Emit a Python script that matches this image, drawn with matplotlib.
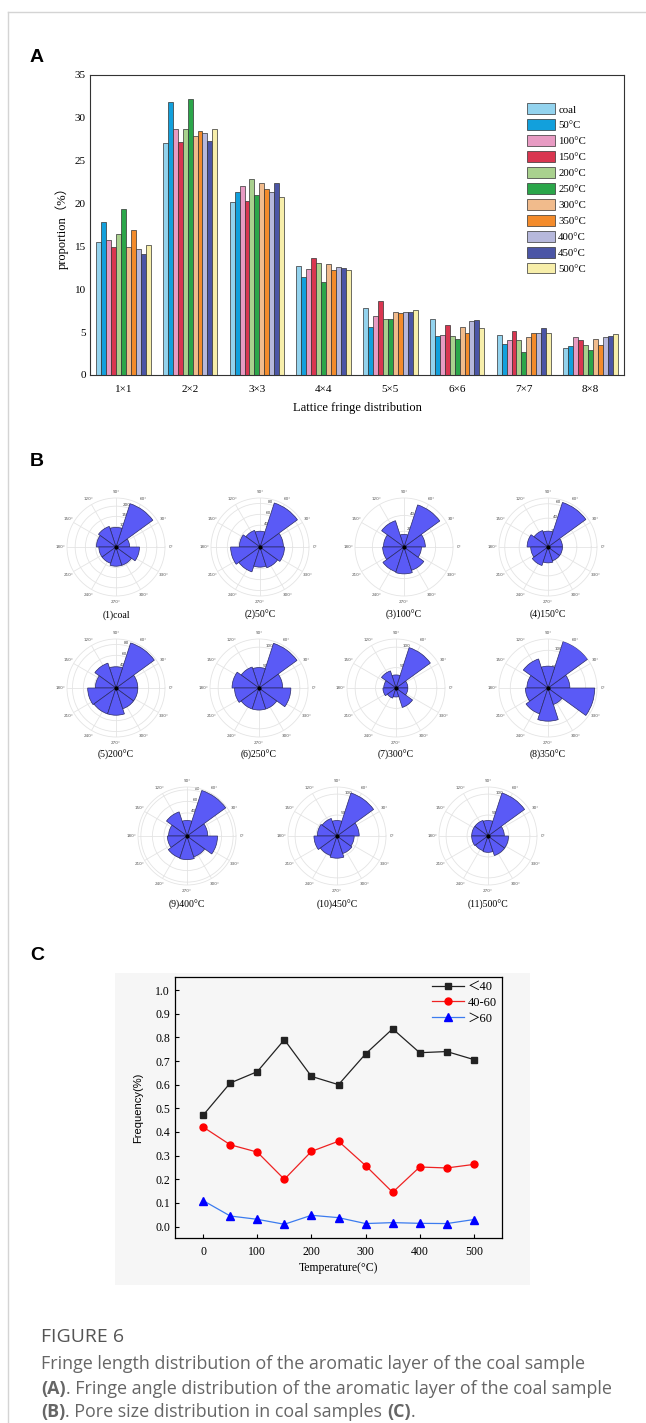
import numpy as np
import matplotlib.pyplot as plt
from matplotlib.patches import Rectangle
from matplotlib.lines import Line2D

# ---------------- data ----------------
fringe_classes = ["1×1", "2×2", "3×3", "4×4", "5×5", "6×6", "7×7", "8×8"]
samples = ["coal", "50°C", "100°C", "150°C", "200°C", "250°C",
           "300°C", "350°C", "400°C", "450°C", "500°C"]
sample_colors = ["#93d3ee", "#12a0dc", "#e89bc3", "#d93650", "#a9d18e", "#2ba64a",
                 "#f1bb8c", "#f38b2b", "#b6b8dc", "#4b55a6", "#f7eeaa"]
# proportion (%) for each sample, one value per fringe class
prop_coal = [15.5, 27.1, 20.2, 12.7, 7.8, 6.5, 4.7, 3.1]
prop_50 = [17.9, 31.8, 21.4, 11.4, 5.6, 4.5, 3.6, 3.4]
prop_100 = [15.8, 28.7, 22.1, 12.4, 6.9, 4.7, 4.1, 4.4]
prop_150 = [14.9, 27.2, 20.3, 13.7, 8.6, 5.8, 5.1, 4.1]
prop_200 = [16.5, 28.7, 22.9, 13.1, 6.5, 4.6, 4.1, 3.5]
prop_250 = [19.4, 32.2, 21.0, 10.9, 6.5, 4.2, 2.7, 2.9]
prop_300 = [14.9, 27.9, 22.4, 13.0, 7.4, 5.6, 4.4, 4.2]
prop_350 = [16.9, 28.5, 21.7, 12.3, 7.2, 4.9, 4.9, 3.5]
prop_400 = [14.7, 28.2, 21.3, 12.6, 7.3, 6.3, 4.9, 4.4]
prop_450 = [14.1, 27.3, 22.4, 12.5, 7.4, 6.4, 5.5, 4.6]
prop_500 = [15.2, 28.7, 20.8, 12.3, 7.6, 5.5, 4.9, 4.8]
proportions = [prop_coal, prop_50, prop_100, prop_150, prop_200, prop_250,
               prop_300, prop_350, prop_400, prop_450, prop_500]

# fringe angle roses: counts in 10 bins of 36 deg starting at 0 deg
rose_bins_deg = [0, 36, 72, 108, 144, 180, 216, 252, 288, 324]
rose_titles = ["(1)coal", "(2)50°C", "(3)100°C", "(4)150°C", "(5)200°C", "(6)250°C",
               "(7)300°C", "(8)350°C", "(9)400°C", "(10)450°C", "(11)500°C"]
rose_counts = [
    [67, 223, 96, 106, 96, 84, 84, 94, 94, 115],
    [43, 85, 29, 32, 38, 54, 48, 37, 40, 45],
    [27, 56, 16, 35, 26, 27, 33, 34, 31, 22],
    [20, 65, 22, 24, 29, 24, 27, 22, 20, 20],
    [40, 87, 39, 48, 38, 52, 50, 50, 40, 40],
    [58, 115, 50, 54, 66, 60, 54, 54, 54, 78],
    [29, 104, 32, 44, 30, 32, 26, 22, 50, 29],
    [58, 130, 58, 81, 56, 60, 72, 88, 46, 124],
    [36, 83, 27, 44, 32, 34, 40, 41, 38, 53],
    [53, 108, 37, 44, 47, 55, 49, 53, 44, 41],
    [39, 108, 37, 39, 39, 39, 37, 39, 49, 49],
]
rose_rmax = [240, 90, 62, 68, 90, 120, 120, 130, 85, 117, 117]
rose_rticks = [[50, 100, 150, 200], [20, 40, 60, 80], [20, 40], [20, 40, 60],
               [20, 40, 60, 80], [50, 100], [50, 100], [50, 100],
               [20, 40, 60, 80], [50, 100], [50, 100]]

# pore size distribution
temps = [0, 50, 100, 150, 200, 250, 300, 350, 400, 450, 500]
freq_lt40 = [0.471, 0.607, 0.655, 0.790, 0.635, 0.600, 0.730, 0.836, 0.735, 0.740, 0.706]
freq_40_60 = [0.421, 0.346, 0.315, 0.200, 0.318, 0.361, 0.258, 0.145, 0.252, 0.248, 0.263]
freq_gt60 = [0.110, 0.045, 0.031, 0.010, 0.048, 0.038, 0.013, 0.017, 0.014, 0.013, 0.030]

# ---------------- layout helpers ----------------
W, H = 646, 1423
fig = plt.figure(figsize=(W / 100, H / 100), dpi=100)
serif = "Liberation Serif"


def rect(x0, y0, x1, y1):
    return [x0 / W, 1 - y1 / H, (x1 - x0) / W, (y1 - y0) / H]


# card border
fig.add_artist(Line2D([8 / W, 1], [1 - 12 / H, 1 - 12 / H], color="#d4d4d4", lw=1))
fig.add_artist(Line2D([8 / W, 8 / W], [0, 1 - 12 / H], color="#d4d4d4", lw=1))

# panel letters
for letter, y in [("A", 58), ("B", 461), ("C", 955)]:
    fig.text(30 / W, 1 - y / H, letter, fontsize=14, fontweight="bold",
             family="Liberation Sans", va="center", ha="left")

# ---------------- panel A ----------------
axA = fig.add_axes(rect(90, 75, 624, 375))
x = np.arange(len(fringe_classes))
bw = 0.074
for i, (vals, col) in enumerate(zip(proportions, sample_colors)):
    axA.bar(x + (i - 5) * bw, vals, width=bw, color=col, edgecolor="#333333",
            linewidth=0.5, label=samples[i])
axA.set_xlim(-0.5, 7.5)
axA.set_ylim(0, 35)
axA.set_yticks(range(0, 36, 5))
axA.set_xticks(x)
axA.set_xticklabels(fringe_classes, family=serif, fontsize=8)
for t in axA.get_yticklabels():
    t.set_family(serif)
    t.set_fontsize(8)
axA.tick_params(axis="y", length=0, pad=3)
axA.tick_params(axis="x", length=0, pad=7)
axA.set_xlabel("Lattice fringe distribution", family=serif, fontsize=9, labelpad=6)
axA.set_ylabel("proportion（%）", family=[serif, "Noto Sans CJK SC"], fontsize=9, labelpad=4)
for s in axA.spines.values():
    s.set_linewidth(0.8)
    s.set_color("#333333")
axA.legend(loc="upper left", bbox_to_anchor=(0.818, 0.905), frameon=False,
           prop={"family": serif, "size": 7.8}, handlelength=2.6, handleheight=1.15,
           labelspacing=0.45, handletextpad=0.3, borderpad=0, borderaxespad=0)

# ---------------- panel B ----------------
rose_centers = [(116, 547), (260, 547), (404, 547), (548, 547),
                (116, 688), (259, 688), (396, 688), (548, 688),
                (187, 836), (337, 836), (488, 836)]
title_y = [615] * 4 + [755] * 4 + [905] * 3
R = 49
theta = np.deg2rad(np.array(rose_bins_deg) + 18)
for k, (cx, cy) in enumerate(rose_centers):
    ax = fig.add_axes(rect(cx - R, cy - R, cx + R, cy + R), projection="polar")
    ax.bar(theta, rose_counts[k], width=np.deg2rad(36), color="#5a5af6",
           edgecolor="#2a2a66", linewidth=0.5, zorder=3)
    ax.plot(0, 0, "o", color="black", ms=2, zorder=4)
    ax.set_ylim(0, rose_rmax[k])
    ax.set_rticks(rose_rticks[k])
    ax.set_rlabel_position(80)
    ax.set_thetagrids(range(0, 360, 30))
    ax.tick_params(axis="x", labelsize=3, colors="#555555", pad=-2.5, length=0)
    ax.tick_params(axis="y", labelsize=3, colors="#444444")
    ax.grid(color="#e4e4e4", lw=0.6)
    ax.spines["polar"].set_color("#e4e4e4")
    ax.spines["polar"].set_linewidth(0.6)
    fig.text(cx / W, 1 - title_y[k] / H, rose_titles[k], family=serif, fontsize=7,
             ha="center", va="center")

# ---------------- panel C ----------------
fig.add_artist(Rectangle((115 / W, 1 - 1285 / H), (530 - 115) / W, (1285 - 973) / H,
                         transform=fig.transFigure, facecolor="#f6f6f6",
                         edgecolor="none", zorder=0))
axC = fig.add_axes(rect(175, 977, 502, 1238))
axC.set_facecolor("#f6f6f6")
axC.plot(temps, freq_lt40, "-s", color="#222222", lw=0.9, ms=4.5, label="＜40")
axC.plot(temps, freq_40_60, "-o", color="#ee2222", mfc="#ff0000", mec="#ff0000",
         lw=0.9, ms=5, label="40-60")
axC.plot(temps, freq_gt60, "-^", color="#3b7bef", mfc="#0000ff", mec="#0000ff",
         lw=0.9, ms=5.5, label="＞60")
axC.set_xlim(-52, 552)
axC.set_ylim(-0.048, 1.055)
axC.set_xticks(range(0, 501, 100))
axC.set_yticks(np.arange(0, 1.01, 0.1))
axC.set_yticklabels([f"{v:.1f}" for v in np.arange(0, 1.01, 0.1)])
for t in axC.get_xticklabels() + axC.get_yticklabels():
    t.set_family(serif)
    t.set_fontsize(8.5)
axC.tick_params(direction="in", length=3, width=0.8)
axC.tick_params(axis="x", pad=6)
for s in axC.spines.values():
    s.set_linewidth(0.9)
axC.set_xlabel("Temperature(°C)", family=serif, fontsize=8.5, labelpad=3)
axC.set_ylabel("Frequency(%)", family="Liberation Sans", fontsize=8, labelpad=9)
axC.legend(loc="upper right", bbox_to_anchor=(0.985, 0.985), frameon=False,
           prop={"family": [serif, "Noto Sans CJK SC"], "size": 9},
           handlelength=2.6, labelspacing=0.3, handletextpad=0.3,
           borderpad=0, borderaxespad=0)

# ---------------- caption ----------------
fig.text(41 / W, 1 - 1337 / H, "FIGURE 6", family="Open Sans", fontsize=14,
         color="#555555", va="center")
renderer = fig.canvas.get_renderer()
cap_lines = [
    [("Fringe length distribution of the aromatic layer of the coal sample", "normal")],
    [("(A)", "bold"), (". Fringe angle distribution of the aromatic layer of the coal sample", "normal")],
    [("(B)", "bold"), (". Pore size distribution in coal samples ", "normal"), ("(C)", "bold"), (".", "normal")],
]
cap_y = [1364, 1389, 1412]
for parts, yy in zip(cap_lines, cap_y):
    xpos = 41
    for txt, wgt in parts:
        t = fig.text(xpos / W, 1 - yy / H, txt, family="Open Sans", fontsize=12.9,
                     fontweight=wgt, color="#666666", va="center")
        xpos += t.get_window_extent(renderer=renderer).width

fig.savefig("out.png", dpi=100)
